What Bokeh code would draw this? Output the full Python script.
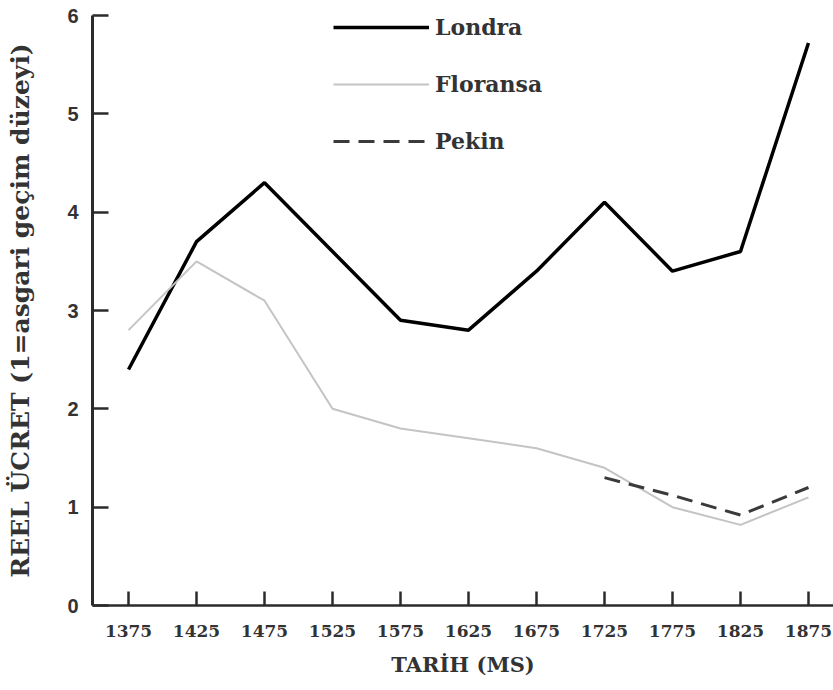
from bokeh.plotting import figure
from bokeh.models import Range1d, FixedTicker, Legend, LegendItem
from bokeh.embed import file_html
from bokeh.resources import INLINE

years = [1375, 1425, 1475, 1525, 1575, 1625, 1675, 1725, 1775, 1825, 1875]
londra = [2.4, 3.7, 4.3, 3.6, 2.9, 2.8, 3.4, 4.1, 3.4, 3.6, 5.72]
floransa = [2.8, 3.5, 3.1, 2.0, 1.8, 1.7, 1.6, 1.4, 1.0, 0.82, 1.1]
pekin_years = [1725, 1775, 1825, 1875]
pekin = [1.3, 1.12, 0.92, 1.2]
y_ticks = [0, 1, 2, 3, 4, 5, 6]

SERIF = "DejaVu Serif"
AX = "#2b2b2b"

p = figure(width=833, height=690, output_backend="svg", toolbar_location=None,
           x_range=Range1d(1348.5, 1893.4), y_range=Range1d(0, 6),
           min_border_left=92, min_border_right=0, min_border_top=15, min_border_bottom=85)
p.outline_line_color = None
p.grid.visible = False
p.background_fill_color = "white"

l1 = p.line(years, londra, line_color="black", line_width=3.5)
l2 = p.line(years, floransa, line_color="#c4c4c4", line_width=2)
l3 = p.line(pekin_years, pekin, line_color="#3a3a3a", line_width=3, line_dash="16 9")

for ax in (p.xaxis[0], p.yaxis[0]):
    ax.major_tick_out = 0
    ax.minor_tick_line_color = None
    ax.major_tick_line_color = AX
    ax.axis_line_color = AX
    ax.major_label_text_color = "#333333"
    ax.axis_label_text_color = "#333333"
    ax.axis_label_text_font_style = "bold"
    ax.major_label_text_font_style = "bold"

xa = p.xaxis[0]
xa.ticker = FixedTicker(ticks=years)
xa.major_tick_in = 14
xa.major_tick_line_width = 2.5
xa.axis_line_width = 2.5
xa.major_label_text_font = SERIF
xa.major_label_text_font_size = "17px"
xa.major_label_standoff = 19
xa.axis_label = "TARİH (MS)"
xa.axis_label_text_font = SERIF
xa.axis_label_text_font_size = "21px"
xa.axis_label_standoff = 12

ya = p.yaxis[0]
ya.ticker = FixedTicker(ticks=y_ticks)
ya.major_tick_in = 16
ya.major_tick_line_width = 2.5
ya.axis_line_width = 3
ya.major_label_text_font = "Liberation Sans"
ya.major_label_text_font_size = "20px"
ya.major_label_standoff = 14
ya.axis_label = "REEL ÜCRET (1=asgari geçim düzeyi)"
ya.axis_label_text_font = SERIF
ya.axis_label_text_font_size = "25px"
ya.axis_label_standoff = 29

legend = Legend(items=[LegendItem(label="Londra", renderers=[l1]),
                       LegendItem(label="Floransa", renderers=[l2]),
                       LegendItem(label="Pekin", renderers=[l3])],
                location=(241, 451), glyph_width=96, glyph_height=26, label_height=26,
                spacing=31, padding=0, margin=0, border_line_color=None,
                background_fill_alpha=0, label_text_font=SERIF, label_text_font_style="bold",
                label_text_font_size="22px", label_text_color="#333333", label_standoff=6)
p.add_layout(legend)

open("out.html", "w").write(file_html(p, INLINE))
